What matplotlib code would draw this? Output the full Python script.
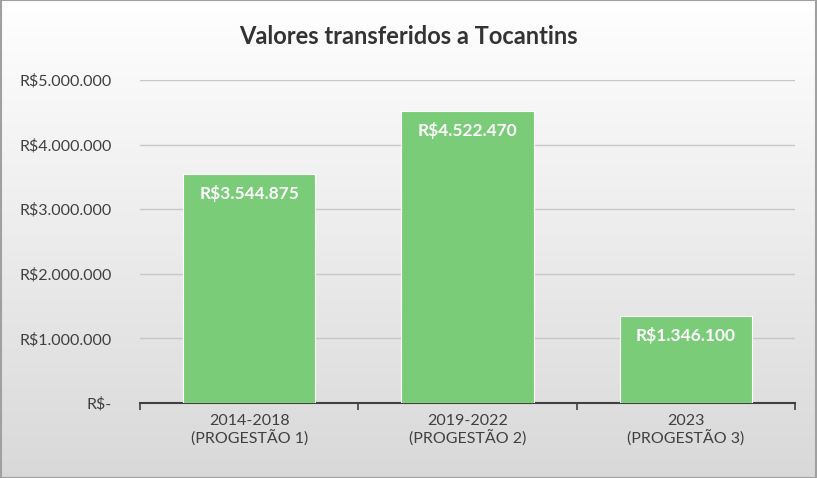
import matplotlib
matplotlib.use("Agg")
import matplotlib.pyplot as plt
import numpy as np

categories = ["2014-2018\n(PROGESTÃO 1)", "2019-2022\n(PROGESTÃO 2)", "2023\n(PROGESTÃO 3)"]
values = [3544875, 4522470, 1346100]
yticks = [0, 1000000, 2000000, 3000000, 4000000, 5000000]

def fmt(v):
    return "R$-" if v == 0 else "R$" + f"{v:,.0f}".replace(",", ".")

plt.rcParams['font.family'] = ['Lato', 'DejaVu Sans']
fig = plt.figure(figsize=(8.17, 4.78), dpi=100)
bg = fig.add_axes([0, 0, 1, 1], zorder=-10)
grad = np.linspace(1.0, 0.85, 256).reshape(-1, 1)
bg.imshow(np.dstack([grad, grad, grad]), aspect='auto', extent=[0, 1, 0, 1])
bg.plot([0.001, 0.999, 0.999, 0.001, 0.001], [0.001, 0.001, 0.999, 0.999, 0.001], color='#a0a0a0', lw=1.5)
bg.set_xlim(0, 1); bg.set_ylim(0, 1); bg.axis('off')

ax = fig.add_axes([140/817, 1-403/478, 655/817, 323/478])
ax.patch.set_alpha(0)
x = np.arange(len(values))
ax.bar(x, values, width=0.605, color='#7acc78', edgecolor='white', linewidth=0.8, zorder=3)
ax.set_xlim(-0.5, 2.5)
ax.set_ylim(0, 5000000)
ax.set_yticks(yticks)
ax.set_yticklabels([fmt(v) for v in yticks], fontsize=11.5, color='#404040')
ax.yaxis.grid(True, color='#c8c8c8', lw=1, zorder=0)
ax.tick_params(axis='y', length=0, pad=20)
ax.set_xticks(x)
ax.set_xticklabels(categories, fontsize=11.5, color='#404040')
ax.set_xticks([-0.5, 0.5, 1.5, 2.5], minor=True)
ax.tick_params(axis='x', which='major', length=0, pad=8)
ax.tick_params(axis='x', which='minor', length=5, width=1.2, color='#404040')
for s in ['top', 'right', 'left']:
    ax.spines[s].set_visible(False)
ax.spines['bottom'].set_color('#404040')
ax.spines['bottom'].set_linewidth(1.5)
for xi, v in zip(x, values):
    ax.text(xi, v - 300000, fmt(v), ha='center', va='center', color='white',
            fontsize=12.5, fontweight='bold', zorder=4)
fig.text(0.5, 1-37/478, "Valores transferidos a Tocantins", ha='center', va='center',
         fontsize=17, fontweight='bold', color='#333333')
fig.savefig("out.png", dpi=100)
